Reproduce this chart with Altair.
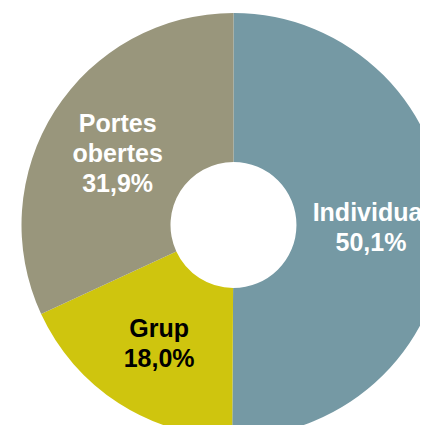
import altair as alt
import pandas as pd

categories = ["Individual", "Grup", "Portes obertes"]
values = [50.1, 18.0, 31.9]
labels = ["Individual\n50,1%", "Grup\n18,0%", "Portes\nobertes\n31,9%"]
colors = ["#7599a4", "#cfc50e", "#99967c"]
text_colors = ["#ffffff", "#000000", "#ffffff"]

df = pd.DataFrame({
    "cat": categories,
    "value": values,
    "label": labels,
    "nlines": [l.count("\n") + 1 for l in labels],
    "order": list(range(len(categories))),
    "tcolor": text_colors,
})

cx, cy = 225.5, 217

base = alt.Chart(df).encode(
    theta=alt.Theta("value:Q", stack=True),
    order=alt.Order("order:Q", sort="ascending"),
)

arcs = base.mark_arc(outerRadius=212, innerRadius=63).encode(
    x=alt.value(cx),
    y=alt.value(cy),
    color=alt.Color("cat:N", scale=alt.Scale(domain=categories, range=colors), legend=None),
)


def text_layer(n, dy):
    return base.transform_calculate(
        t=f"datum.nlines == {n} ? datum.label : ''"
    ).mark_text(
        radius=137.5,
        font="Liberation Sans",
        fontSize=25,
        fontWeight="bold",
        lineBreak="\n",
        lineHeight=30,
        align="center",
        baseline="middle",
        dy=dy,
    ).encode(
        x=alt.value(cx),
        y=alt.value(cy),
        text="t:N",
        color=alt.Color("tcolor:N", scale=None),
    )


chart = alt.layer(arcs, text_layer(2, -12), text_layer(3, -27)).properties(
    width=412, height=417, padding=0,
    autosize=alt.AutoSizeParams(type="none"),
).configure_view(strokeWidth=0)

chart.save("out.html", embed_options={"renderer": "svg", "actions": False})
